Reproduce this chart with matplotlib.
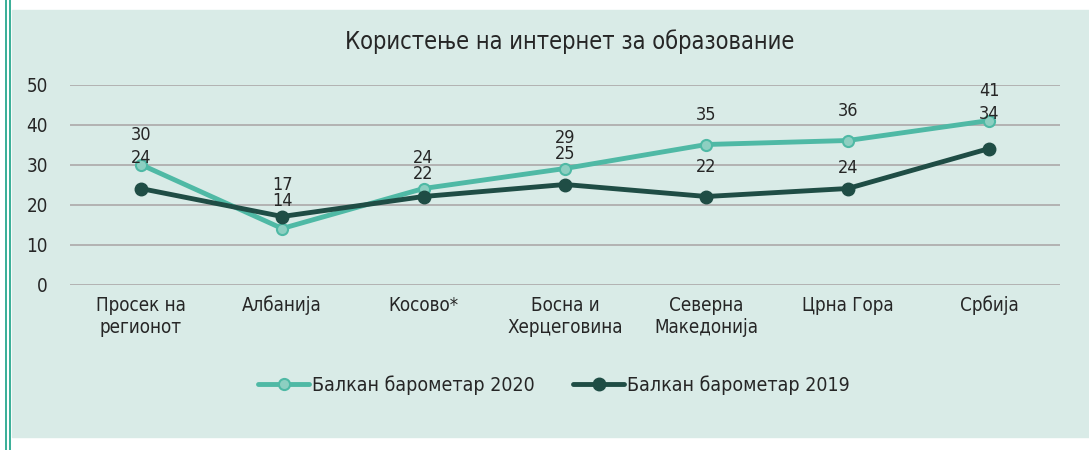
import matplotlib
matplotlib.use('Agg')
import matplotlib.pyplot as plt
from matplotlib import font_manager
from matplotlib.patches import Rectangle
from matplotlib.lines import Line2D

condensed = any(f.name == 'DejaVu Sans' and f.stretch == 'condensed'
                for f in font_manager.fontManager.ttflist)
plt.rcParams['font.family'] = ['DejaVu Sans']
if condensed:
    plt.rcParams['font.stretch'] = 'condensed'

categories = ['Просек на\nрегионот', 'Албанија', 'Косово*', 'Босна и\nХерцеговина',
              'Северна\nМакедонија', 'Црна Гора', 'Србија']
val_2020 = [30, 14, 24, 29, 35, 36, 41]
val_2019 = [24, 17, 22, 25, 22, 24, 34]

c2020 = '#4fb9a5'
c2020_face = '#8dcfc1'
c2019 = '#1f4d45'
bg = '#d9ebe7'
txt = '#262626'

fig = plt.figure(figsize=(10.89, 4.5), dpi=100)
fig.patch.set_facecolor('white')
# panel background and the double border on the left
fig.patches.append(Rectangle((12/1089, 1-437/450), 1, (437-10)/450,
                             transform=fig.transFigure, color=bg, zorder=-5))
for xx in (5.5, 9.5):
    fig.add_artist(Line2D([xx/1089, xx/1089], [0, 1], transform=fig.transFigure,
                          color='#2aa88f', lw=1.3, zorder=-4))

ax = fig.add_axes([70/1089, 1-284.5/450, 990/1089, 200/450])
ax.set_facecolor('none')
x = list(range(len(categories)))

ax.plot(x, val_2020, color=c2020, lw=3.5, marker='o', ms=8, mfc=c2020_face,
        mec=c2020, mew=1.5, zorder=3, label='Балкан барометар 2020', solid_capstyle='round')
ax.plot(x, val_2019, color=c2019, lw=3.5, marker='o', ms=9, mfc=c2019,
        mec=c2019, zorder=4, label='Балкан барометар 2019', solid_capstyle='round')

off20 = [21, 20, 22, 22, 21, 21, 21]
off19 = [22, 23, 16, 22, 21, 15, 25]
for i in x:
    ax.annotate(str(val_2020[i]), (i, val_2020[i]), xytext=(0, off20[i]),
                textcoords='offset points', ha='center', va='center', fontsize=13, color=txt, zorder=5)
    ax.annotate(str(val_2019[i]), (i, val_2019[i]), xytext=(0, off19[i]),
                textcoords='offset points', ha='center', va='center', fontsize=13, color=txt, zorder=5)

ax.set_xlim(-0.5, 6.5)
ax.set_ylim(0, 50)
ax.set_yticks([0, 10, 20, 30, 40, 50])
ax.yaxis.grid(True, color='#b3b3b3', lw=1.44)
ax.set_axisbelow(True)
for s in ax.spines.values():
    s.set_visible(False)
ax.tick_params(length=0, labelsize=13.5, colors=txt)
ax.tick_params(axis='y', pad=16)
ax.tick_params(axis='x', pad=8)
ax.set_xticks(x)
ax.set_xticklabels(categories, linespacing=1.2)

fig.text(570/1089, 1-42/450, 'Користење на интернет за образование', ha='center', va='center',
         fontsize=17, color=txt)

fig.legend(loc='center', bbox_to_anchor=(554/1089, 1-385/450), ncol=2, frameon=False,
           fontsize=14, handlelength=2.6, handletextpad=0.15, columnspacing=2.0,
           labelcolor=txt)

fig.savefig('out.png', dpi=100, facecolor=fig.get_facecolor())
